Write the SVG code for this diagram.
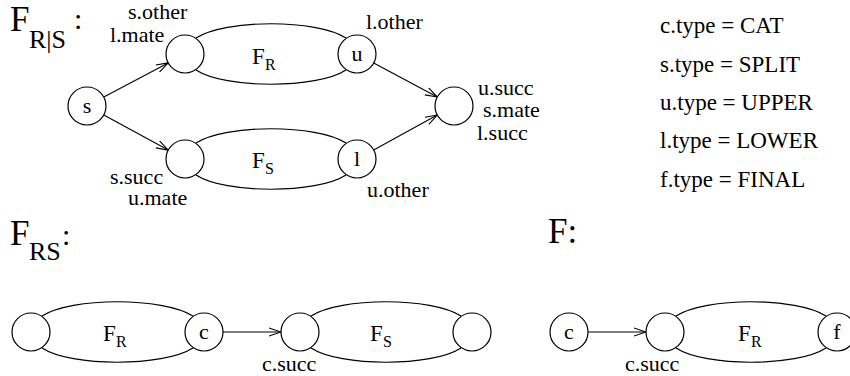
<svg xmlns="http://www.w3.org/2000/svg" width="850" height="376" viewBox="0 0 850 376">
<defs>
<style>
text{font-family:"Liberation Serif","Times New Roman",serif;fill:#000}
.lbl{font-size:22px}
.leg{font-size:23px}
.nl{font-size:22px;text-anchor:middle}
.big{font-size:35px}
.sub{font-size:26px}
.col{font-size:30px}
.lf{font-size:23px}
.ls{font-size:16px}
circle{fill:#fff;stroke:#000;stroke-width:1.2}
.lens{fill:none;stroke:#000;stroke-width:1.2}
.edge{fill:none;stroke:#000;stroke-width:1.1;marker-end:url(#ah)}
</style>
<marker id="ah" viewBox="0 0 12 10" refX="12" refY="5" markerWidth="12" markerHeight="10" markerUnits="userSpaceOnUse" orient="auto">
<path d="M0,1 L12,5 L0,9" fill="none" stroke="#000" stroke-width="1.1"/>
</marker>
</defs>
<rect width="850" height="376" fill="#fff"/>

<g id="title-frs">
<text class="big" x="10" y="31">F</text><text class="sub" x="29" y="48">R|S</text><text class="col" x="74" y="29">:</text>
</g>
<g id="title-frs2">
<text class="big" x="10" y="245">F</text><text class="sub" x="29" y="260">RS</text><text class="col" x="62" y="245">:</text>
</g>
<g id="title-f">
<text class="big" x="548" y="243">F:</text>
</g>

<g id="legend">
<text class="leg" x="660" y="33">c.type = CAT</text>
<text class="leg" x="660" y="72">s.type = SPLIT</text>
<text class="leg" x="660" y="110">u.type = UPPER</text>
<text class="leg" x="660" y="148">l.type = LOWER</text>
<text class="leg" x="660" y="187">f.type = FINAL</text>
</g>

<g id="lenses">
<path class="lens" d="M196,38 C225,19 317,19 346,38 M196,70 C225,89 317,89 346,70"/>
<path class="lens" d="M196,143 C225,124 317,124 346,143 M196,175 C225,194 317,194 346,175"/>
<path class="lens" d="M42,316 C71,297 163,297 193,316 M42,348 C71,367 163,367 193,348"/>
<path class="lens" d="M311,316 C340,297 432,297 461,316 M311,348 C340,367 432,367 461,348"/>
<path class="lens" d="M676,316 C705,297 797,297 826,316 M676,348 C705,367 797,367 826,348"/>
</g>

<g id="connectors">
<line class="edge" x1="103.8" y1="97.1" x2="168.2" y2="62.9"/>
<line class="edge" x1="103.8" y1="115" x2="168.2" y2="150.1"/>
<line class="edge" x1="373.7" y1="63" x2="437.3" y2="97"/>
<line class="edge" x1="373.7" y1="150" x2="437.3" y2="115"/>
<line class="edge" x1="223" y1="332" x2="281" y2="332"/>
<line class="edge" x1="588" y1="332" x2="646" y2="332"/>
</g>

<g id="node-s"><circle cx="87" cy="106" r="19"/><text class="nl" x="87" y="113">s</text></g>
<g id="node-ul"><circle cx="185" cy="54" r="19"/></g>
<g id="node-ll"><circle cx="185" cy="159" r="19"/></g>
<g id="node-u"><circle cx="357" cy="54" r="19"/><text class="nl" x="357" y="61">u</text></g>
<g id="node-l"><circle cx="357" cy="159" r="19"/><text class="nl" x="357" y="166">l</text></g>
<g id="node-r"><circle cx="454" cy="106" r="19"/></g>

<g id="labels-top">
<text class="lbl" x="128" y="19">s.other</text>
<text class="lbl" x="110" y="42">l.mate</text>
<text class="lbl" x="366" y="29">l.other</text>
<text class="lbl" x="478" y="95">u.succ</text>
<text class="lbl" x="483" y="117">s.mate</text>
<text class="lbl" x="477" y="140">l.succ</text>
<text class="lbl" x="110" y="184">s.succ</text>
<text class="lbl" x="128" y="205">u.mate</text>
<text class="lbl" x="367" y="197">u.other</text>
<text class="lf" x="252" y="64">F</text><text class="ls" x="265" y="70">R</text>
<text class="lf" x="252" y="168">F</text><text class="ls" x="265" y="174">S</text>
</g>

<g id="node-b1"><circle cx="31" cy="332" r="19"/></g>
<g id="node-bc"><circle cx="204" cy="332" r="19"/><text class="nl" x="204" y="339">c</text></g>
<g id="node-b3"><circle cx="300" cy="332" r="19"/></g>
<g id="node-b4"><circle cx="472" cy="332" r="19"/></g>
<g id="node-rc"><circle cx="569" cy="332" r="19"/><text class="nl" x="569" y="339">c</text></g>
<g id="node-r2"><circle cx="665" cy="332" r="19"/></g>
<g id="node-f"><circle cx="837" cy="332" r="19"/><text class="nl" x="837" y="339">f</text></g>

<g id="labels-bottom">
<text class="lf" x="103" y="341">F</text><text class="ls" x="116" y="347">R</text>
<text class="lf" x="370" y="341">F</text><text class="ls" x="383" y="347">S</text>
<text class="lf" x="738" y="341">F</text><text class="ls" x="751" y="347">R</text>
<text class="lbl" x="262" y="371">c.succ</text>
<text class="lbl" x="625" y="371">c.succ</text>
</g>
</svg>
